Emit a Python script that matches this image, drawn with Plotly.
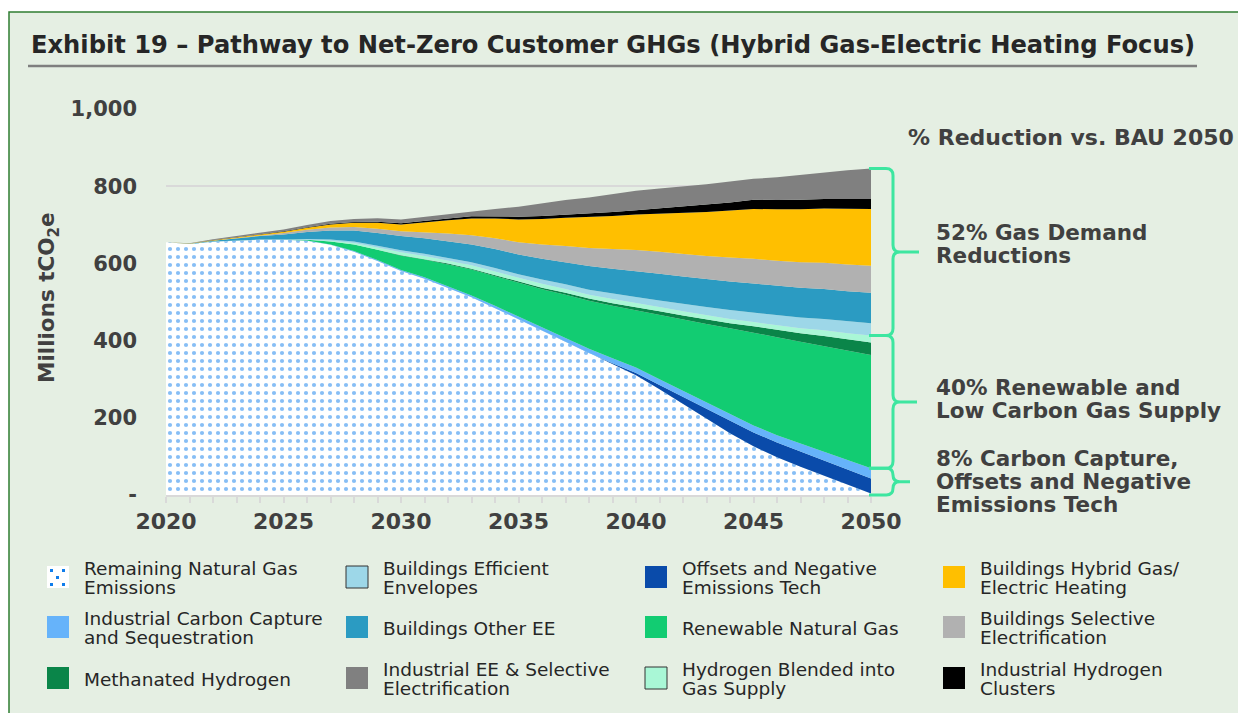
import plotly.graph_objects as go

# ---------------- data (Millions tCO2e, stacked layers) ----------------
years = list(range(2020, 2051))
remaining_gas = [655, 650, 656, 659, 661, 661, 659, 648, 630, 606, 580, 560, 537, 512, 484, 455,
                 425, 397, 368, 339, 310, 274, 236, 198, 160, 126, 98, 73, 50, 26, 4]
offsets_neg = [0] * 19 + [2, 6, 11, 18, 25, 32, 36, 38, 39, 39, 40, 39]
ind_ccs = [0, 0, 0, 0, 0, 0, 0.5, 1, 2, 2.5, 3, 4, 4.5, 5, 6, 7, 8, 10, 11, 13, 14,
           15, 16, 17, 17, 18, 19, 21, 23, 24, 26]
rng = [0] * 6 + [2, 8, 17, 27, 37, 46, 56, 67, 77, 88, 100, 112, 124, 136, 148,
                 166, 184, 203, 223, 241, 254, 264, 274, 284, 294]
meth_h2 = [0] * 10 + [1, 1, 2, 2, 3, 3, 4, 5, 6, 7, 9, 10, 11, 12, 13, 16, 19, 22, 26, 29, 32]
h2_blend = [0] * 7 + [2, 4, 6, 8, 8, 8, 9, 9, 9, 10, 10, 10, 11, 11, 11, 11, 11, 11, 11,
                      12, 13, 15, 16, 18]
envelopes = [0, 0, 0.5, 0.5, 1, 1, 2, 3, 4, 4.5, 5, 6, 7, 8, 9, 10, 11, 12, 13, 14, 15,
             17, 19, 21, 23, 25, 26, 28, 29, 31, 32]
other_ee = [0, 1, 2, 5, 9, 13, 18, 23, 28, 33, 37, 40, 43, 46, 49, 51, 54, 57, 61, 64, 67,
            69, 71, 72, 74, 75, 76, 77, 78, 78, 79]
sel_elec = [0, 0, 0.5, 1, 2, 4, 6, 8, 9, 11, 12, 16, 20, 24, 28, 32, 37, 42, 47, 51, 55,
            57, 58, 60, 62, 64, 65, 66, 68, 69, 70]
hybrid = [0, 0.5, 1, 1.5, 2, 3, 5, 8, 11, 15, 18, 26, 34, 43, 51, 59, 66, 73, 80, 86, 92,
          99, 107, 114, 122, 129, 133, 137, 140, 144, 147]
ind_h2 = [0, 0, 0.5, 0.5, 1, 1, 1, 2, 2, 3, 3, 4, 5, 6, 6, 7, 8, 8, 9, 10, 11,
          14, 16, 19, 21, 24, 24, 25, 25, 26, 26]
ind_ee = [0, 1, 2, 3, 4, 5, 6, 7, 8, 9, 10, 10, 12, 13, 19, 26, 33, 38, 42, 46, 50,
          51, 52, 53, 54, 54, 59, 64, 69, 74, 79]

names = ["Remaining Natural Gas Emissions", "Offsets and Negative Emissions Tech",
         "Industrial Carbon Capture and Sequestration", "Renewable Natural Gas",
         "Methanated Hydrogen", "Hydrogen Blended into Gas Supply",
         "Buildings Efficient Envelopes", "Buildings Other EE",
         "Buildings Selective Electrification", "Buildings Hybrid Gas/ Electric Heating",
         "Industrial Hydrogen Clusters", "Industrial EE & Selective Electrification"]
series = [remaining_gas, offsets_neg, ind_ccs, rng, meth_h2, h2_blend, envelopes,
          other_ee, sel_elec, hybrid, ind_h2, ind_ee]
colors = ["#FFFFFF", "#0A4BAA", "#66B3FA", "#12CC72", "#0A8549", "#A9F7D6",
          "#9DD7E8", "#2B9BC2", "#B1B1B1", "#FFBF00", "#000000", "#808080"]

legend_lines = {
    0: ["Remaining Natural Gas", "Emissions"],
    2: ["Industrial Carbon Capture", "and Sequestration"],
    4: ["Methanated Hydrogen"],
    6: ["Buildings Efficient", "Envelopes"],
    7: ["Buildings Other EE"],
    11: ["Industrial EE & Selective", "Electrification"],
    1: ["Offsets and Negative", "Emissions Tech"],
    3: ["Renewable Natural Gas"],
    5: ["Hydrogen Blended into", "Gas Supply"],
    9: ["Buildings Hybrid Gas/", "Electric Heating"],
    8: ["Buildings Selective", "Electrification"],
    10: ["Industrial Hydrogen", "Clusters"],
}
legend_order = [0, 2, 4, 6, 7, 11, 1, 3, 5, 9, 8, 10]

# ---------------- pixel helpers (reference-screen pixels) ----------------
PL, PR, PT, PB = 166, 871, 109, 495
OFF = 8                     # page body margin
W, H = 1246 - OFF, 713 - OFF
DOT = "#0F7DEB"


def xp(px):
    return (px - PL) / (PR - PL)


def yp(py):
    return (PB - py) / (PB - PT)


fig = go.Figure()
for i, (nm, vals, col) in enumerate(zip(names, series, colors)):
    kw = dict(x=years, y=vals, name=nm, mode="lines", stackgroup="one",
              line=dict(width=0, color=col), fillcolor=col, showlegend=False,
              hovertemplate="%{x}: %{y}<extra>" + nm + "</extra>")
    if i == 0:
        kw["fillpattern"] = dict(shape=".", fgcolor=DOT, bgcolor="#FFFFFF",
                                 size=8, solidity=0.22)
    fig.add_trace(go.Scatter(**kw))

shapes = []
annotations = []

shapes.append(dict(type="rect", xref="paper", yref="paper", layer="below",
                   x0=xp(9), x1=xp(1270), y0=yp(730), y1=yp(12),
                   fillcolor="#E5EFE3", line=dict(color="#2F7D32", width=1.5)))
shapes.append(dict(type="line", xref="paper", yref="paper",
                   x0=xp(28), x1=xp(1197), y0=yp(66), y1=yp(66),
                   line=dict(color="#7F7F7F", width=2.5)))

BOLD = "DejaVu Sans"
DARK = "#404040"
annotations.append(dict(xref="paper", yref="paper", x=xp(29), y=yp(45), xanchor="left",
                        yanchor="middle", showarrow=False,
                        text="Exhibit 19 – Pathway to Net-Zero Customer GHGs (Hybrid Gas-Electric Heating Focus)",
                        font=dict(family=BOLD, size=24.2, color="#262626", weight="bold")))

annotations.append(dict(xref="paper", yref="paper", x=xp(48), y=yp(298), textangle=-90,
                        showarrow=False, xanchor="center", yanchor="middle",
                        text="Millions tCO<sub>2</sub>e",
                        font=dict(family=BOLD, size=21.5, color=DARK, weight="bold")))

annotations.append(dict(xref="paper", yref="paper", x=xp(906), y=yp(137), xanchor="left",
                        yanchor="middle", showarrow=False,
                        text="% Reduction vs. BAU 2050",
                        font=dict(family=BOLD, size=22, color=DARK, weight="bold")))

# braces computed from 2050 stacked totals
cum = []
run = 0
for s in series:
    run += s[-1]
    cum.append(run)
total_2050 = cum[-1]
top_h2blend = cum[5]
top_ccs = cum[2]
BR = "#3DE6A0"


def brace(v_top, v_bot, x_tip):
    ytop = PB - v_top * (PB - PT) / 1000.0
    ybot = PB - v_bot * (PB - PT) / 1000.0
    ym = (ytop + ybot) / 2
    x0, xv, r = 869, 893, 7
    rr = min(r, (ybot - ytop) / 4)

    def P(px, py):
        return f"{xp(px):.5f},{yp(py):.5f}"
    d = (f"M{P(x0, ytop)} L{P(xv - rr, ytop)} Q{P(xv, ytop)} {P(xv, ytop + rr)} "
         f"L{P(xv, ym - rr)} Q{P(xv, ym)} {P(xv + rr, ym)} L{P(x_tip, ym)} "
         f"M{P(xv + rr, ym)} Q{P(xv, ym)} {P(xv, ym + rr)} L{P(xv, ybot - rr)} "
         f"Q{P(xv, ybot)} {P(xv - rr, ybot)} L{P(x0, ybot)}")
    return dict(type="path", xref="paper", yref="paper", path=d,
                line=dict(color=BR, width=3))


shapes.append(brace(total_2050, top_h2blend, 919))
shapes.append(brace(top_h2blend, top_ccs, 917))
shapes.append(brace(top_ccs, 0, 910))

right_labels = [("52% Gas Demand", 232), ("Reductions", 255),
                ("40% Renewable and", 387), ("Low Carbon Gas Supply", 410),
                ("8% Carbon Capture,", 458), ("Offsets and Negative", 481),
                ("Emissions Tech", 504)]
for txt, py in right_labels:
    annotations.append(dict(xref="paper", yref="paper", x=xp(934), y=yp(py),
                            xanchor="left", yanchor="middle", showarrow=False,
                            text=txt,
                            font=dict(family=BOLD, size=21.5, color=DARK, weight="bold")))

# manual legend
col_sw = [47, 346, 645, 943]
row_c = [578, 628, 679]
SW = 22
for k, idx in enumerate(legend_order):
    c, r = k // 3, k % 3
    sx, cy = col_sw[c], row_c[r]
    outlined = idx in (5, 6)
    shapes.append(dict(type="rect", xref="paper", yref="paper",
                       x0=xp(sx), x1=xp(sx + SW), y0=yp(cy - SW / 2 - 1), y1=yp(cy + SW / 2 - 1),
                       fillcolor=colors[idx],
                       line=dict(color="#333333" if outlined else colors[idx], width=1 if outlined else 0)))
    if idx == 0:
        for dx, dy in [(3, 3), (15, 3), (9, 10), (3, 17), (15, 17)]:
            shapes.append(dict(type="rect", xref="paper", yref="paper",
                               x0=xp(sx + dx), x1=xp(sx + dx + 3),
                               y0=yp(cy - SW / 2 - 1 + dy), y1=yp(cy - SW / 2 - 1 + dy + 3),
                               fillcolor=DOT, line=dict(width=0)))
    lines = legend_lines[idx]
    offs = [0] if len(lines) == 1 else [-9.5, 9.5]
    for ln, o in zip(lines, offs):
        annotations.append(dict(xref="paper", yref="paper", x=xp(sx + 35), y=yp(cy + o),
                                xanchor="left", yanchor="middle", showarrow=False,
                                text=ln, font=dict(family="DejaVu Sans", size=18.5, color="#262626")))

fig.update_layout(
    width=W, height=H,
    margin=dict(l=PL - OFF, r=W - (PR - OFF), t=PT - OFF, b=H - (PB - OFF)),
    paper_bgcolor="#FFFFFF", plot_bgcolor="rgba(0,0,0,0)",
    shapes=shapes, annotations=annotations,
    showlegend=False,
    font=dict(family=BOLD, color=DARK),
)
fig.update_xaxes(range=[2020, 2050], tickvals=[2020, 2025, 2030, 2035, 2040, 2045, 2050],
                 tickfont=dict(family=BOLD, size=22, color=DARK, weight="bold"), showgrid=False,
                 showline=True, linecolor="#D9D9D9", linewidth=1.5,
                 ticks="outside", ticklen=6, tickcolor="#D9D9D9", tickwidth=1.5,
                 minor=dict(dtick=1, tick0=2020, ticks="outside", ticklen=6,
                            tickcolor="#D9D9D9", tickwidth=1.5, showgrid=False),
                 zeroline=False, fixedrange=True)
fig.update_yaxes(range=[0, 1000], tickvals=[0, 200, 400, 600, 800, 1000],
                 ticktext=["-", "200", "400", "600", "800", "1,000"],
                 tickfont=dict(family=BOLD, size=21, color=DARK, weight="bold"),
                 showgrid=True, gridcolor="#D9D9D9", gridwidth=1.5, zeroline=False,
                 showline=False, ticks="", ticklabelstandoff=28, fixedrange=True)

fig.write_html("out.html")
